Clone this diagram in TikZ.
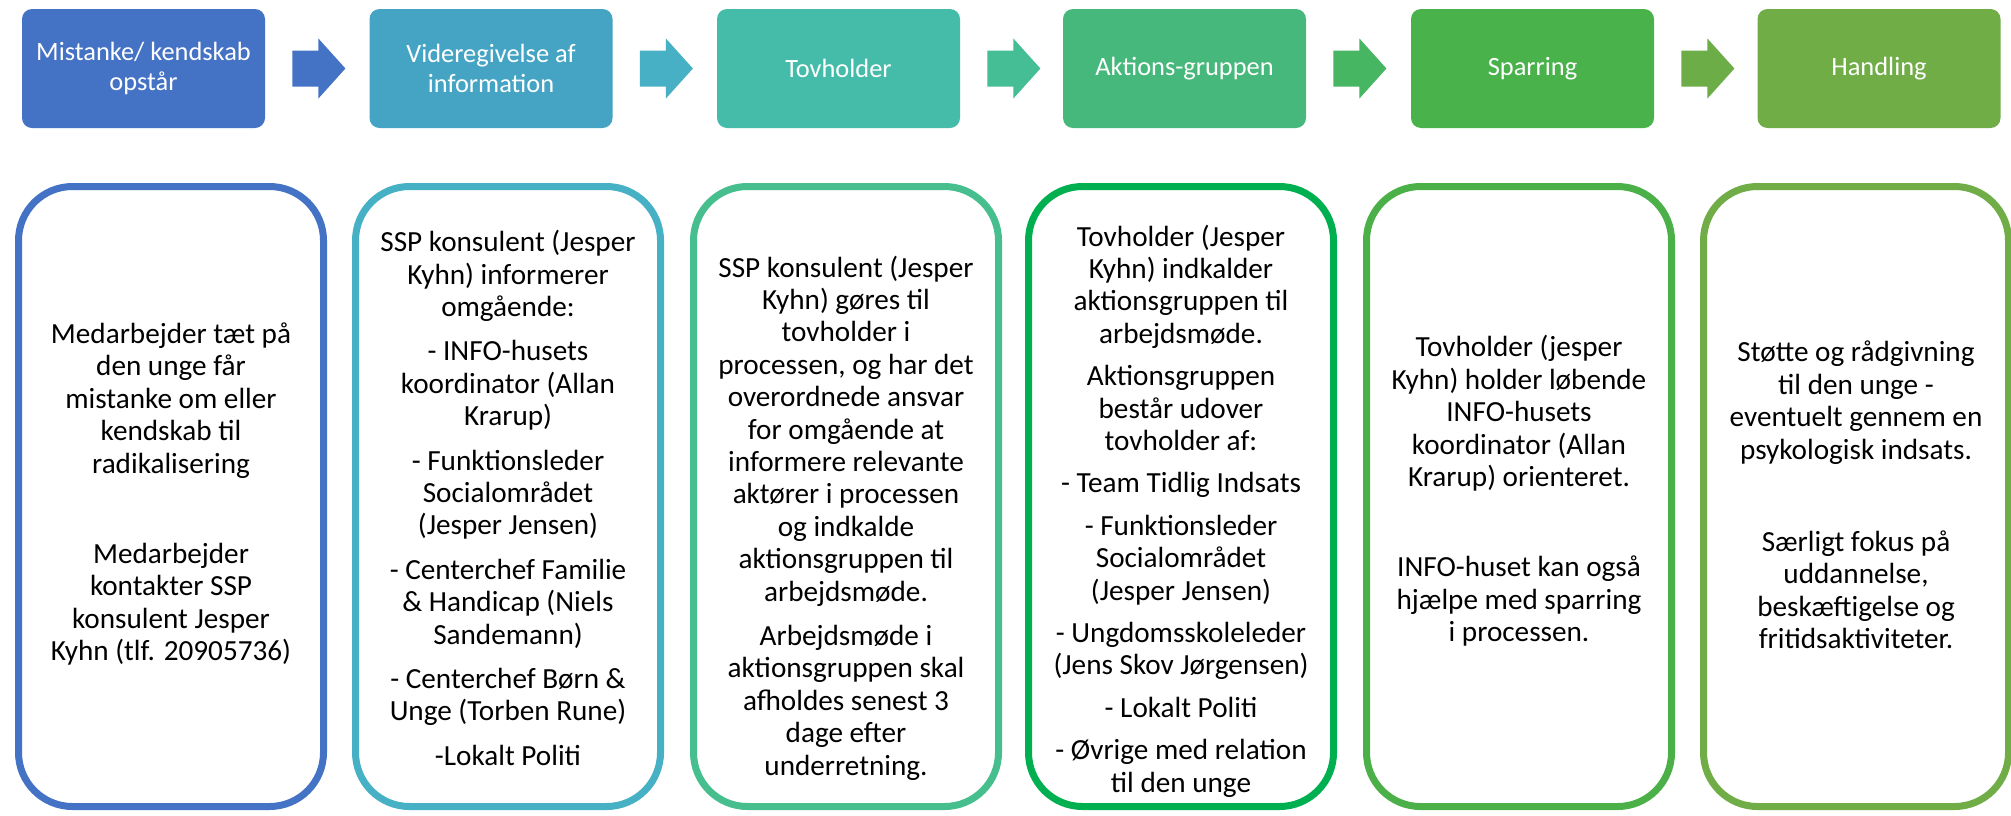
\documentclass[tikz,border=0pt]{standalone}
\usepackage{fontspec}
\setmainfont{Carlito}
\usetikzlibrary{calc}
\definecolor{h1}{HTML}{4472C4}
\definecolor{h2}{HTML}{45A4C4}
\definecolor{h3}{HTML}{45BCA9}
\definecolor{h4}{HTML}{47B87B}
\definecolor{h5}{HTML}{49B24B}
\definecolor{h6}{HTML}{70AD47}
\definecolor{a1}{HTML}{4472C4}
\definecolor{a2}{HTML}{47B0C4}
\definecolor{a3}{HTML}{45BE96}
\definecolor{a4}{HTML}{47B663}
\definecolor{a5}{HTML}{6CAD47}
\definecolor{b1}{HTML}{4472C4}
\definecolor{b2}{HTML}{46B0C4}
\definecolor{b3}{HTML}{46BE8E}
\definecolor{b4}{HTML}{00B050}
\definecolor{b5}{HTML}{4CB049}
\definecolor{b6}{HTML}{70AD47}
\tikzset{
  hdr/.style={rounded corners=5pt, minimum width=121.5pt, minimum height=59.5pt,
    inner sep=0pt, text=white, align=center, font=\fontsize{13.2}{15}\selectfont},
  card/.style={line width=3.5pt, rounded corners=27pt, minimum width=152.5pt,
    minimum height=310pt, inner sep=0pt},
  body/.style={inner sep=0pt, align=center, text=black, font=\fontsize{14.6}{16.2}\selectfont},
}
\newcommand{\blockarrow}[2]{%
  \fill[#2] ($(#1.east)+(27,-18)$) -- ++(26,0) -- ++(0,-12) -- ++(27,30)
    -- ++(-27,30) -- ++(0,-12) -- ++(-26,0) -- cycle;}
\begin{document}
\begin{tikzpicture}[x=0.5pt, y=-0.5pt]
\useasboundingbox[fill=white] (0,0) rectangle (2011,815);
% headers
\node[hdr, fill=h1] (H1) at (143.5,68.5) {Mistanke/ kendskab\\opstår};
\node[hdr, fill=h2] (H2) at (491,68.5) {Videregivelse af\\information};
\node[hdr, fill=h3] (H3) at (838.5,68.5) {Tovholder};
\node[hdr, fill=h4] (H4) at (1184.5,68.5) {Aktions-gruppen};
\node[hdr, fill=h5] (H5) at (1532.5,68.5) {Sparring};
\node[hdr, fill=h6] (H6) at (1879,68.5) {Handling};
% arrows
\blockarrow{H1}{a1}
\blockarrow{H2}{a2}
\blockarrow{H3}{a3}
\blockarrow{H4}{a4}
\blockarrow{H5}{a5}
% cards
\node[card, draw=b1] (C1) at (171,496.5) {};
\node[card, draw=b2] (C2) at (508,496.5) {};
\node[card, draw=b3] (C3) at (846,496.5) {};
\node[card, draw=b4] (C4) at (1181,496.5) {};
\node[card, draw=b5] (C5) at (1519,496.5) {};
\node[card, draw=b6] (C6) at (1856,496.5) {};
% texts
\node[body] (T1) at (171,494) {Medarbejder tæt på\\den unge får\\mistanke om eller\\kendskab til\\radikalisering\\[29pt]Medarbejder\\kontakter SSP\\konsulent Jesper\\Kyhn (tlf. 20905736)};
\node[body] (T2) at (508,498) {SSP konsulent (Jesper\\Kyhn) informerer\\omgående:\\[6pt]- INFO-husets\\koordinator (Allan\\Krarup)\\[6pt]- Funktionsleder\\Socialområdet\\(Jesper Jensen)\\[6pt]- Centerchef Familie\\\& Handicap (Niels\\Sandemann)\\[6pt]- Centerchef Børn \&\\Unge (Torben Rune)\\[6pt]-Lokalt Politi};
\node[body] (T3) at (846,518) {SSP konsulent (Jesper\\Kyhn) gøres til\\tovholder i\\processen, og har det\\overordnede ansvar\\for omgående at\\informere relevante\\aktører i processen\\og indkalde\\aktionsgruppen til\\arbejdsmøde.\\[6pt]Arbejdsmøde i\\aktionsgruppen skal\\afholdes senest 3\\dage efter\\underretning.};
\node[body] (T4) at (1181,511) {Tovholder (Jesper\\Kyhn) indkalder\\aktionsgruppen til\\arbejdsmøde.\\[5pt]Aktionsgruppen\\består udover\\tovholder af:\\[5pt]- Team Tidlig Indsats\\[5pt]- Funktionsleder\\Socialområdet\\(Jesper Jensen)\\[5pt]- Ungdomsskoleleder\\(Jens Skov Jørgensen)\\[5pt]- Lokalt Politi\\[5pt]- Øvrige med relation\\til den unge};
\node[body] (T5) at (1519,491) {Tovholder (jesper\\Kyhn) holder løbende\\INFO-husets\\koordinator (Allan\\Krarup) orienteret.\\[29pt]INFO-huset kan også\\hjælpe med sparring\\i processen.};
\node[body] (T6) at (1856,495) {Støtte og rådgivning\\til den unge -\\eventuelt gennem en\\psykologisk indsats.\\[30pt]Særligt fokus på\\uddannelse,\\beskæftigelse og\\fritidsaktiviteter.};
\end{tikzpicture}
\end{document}
